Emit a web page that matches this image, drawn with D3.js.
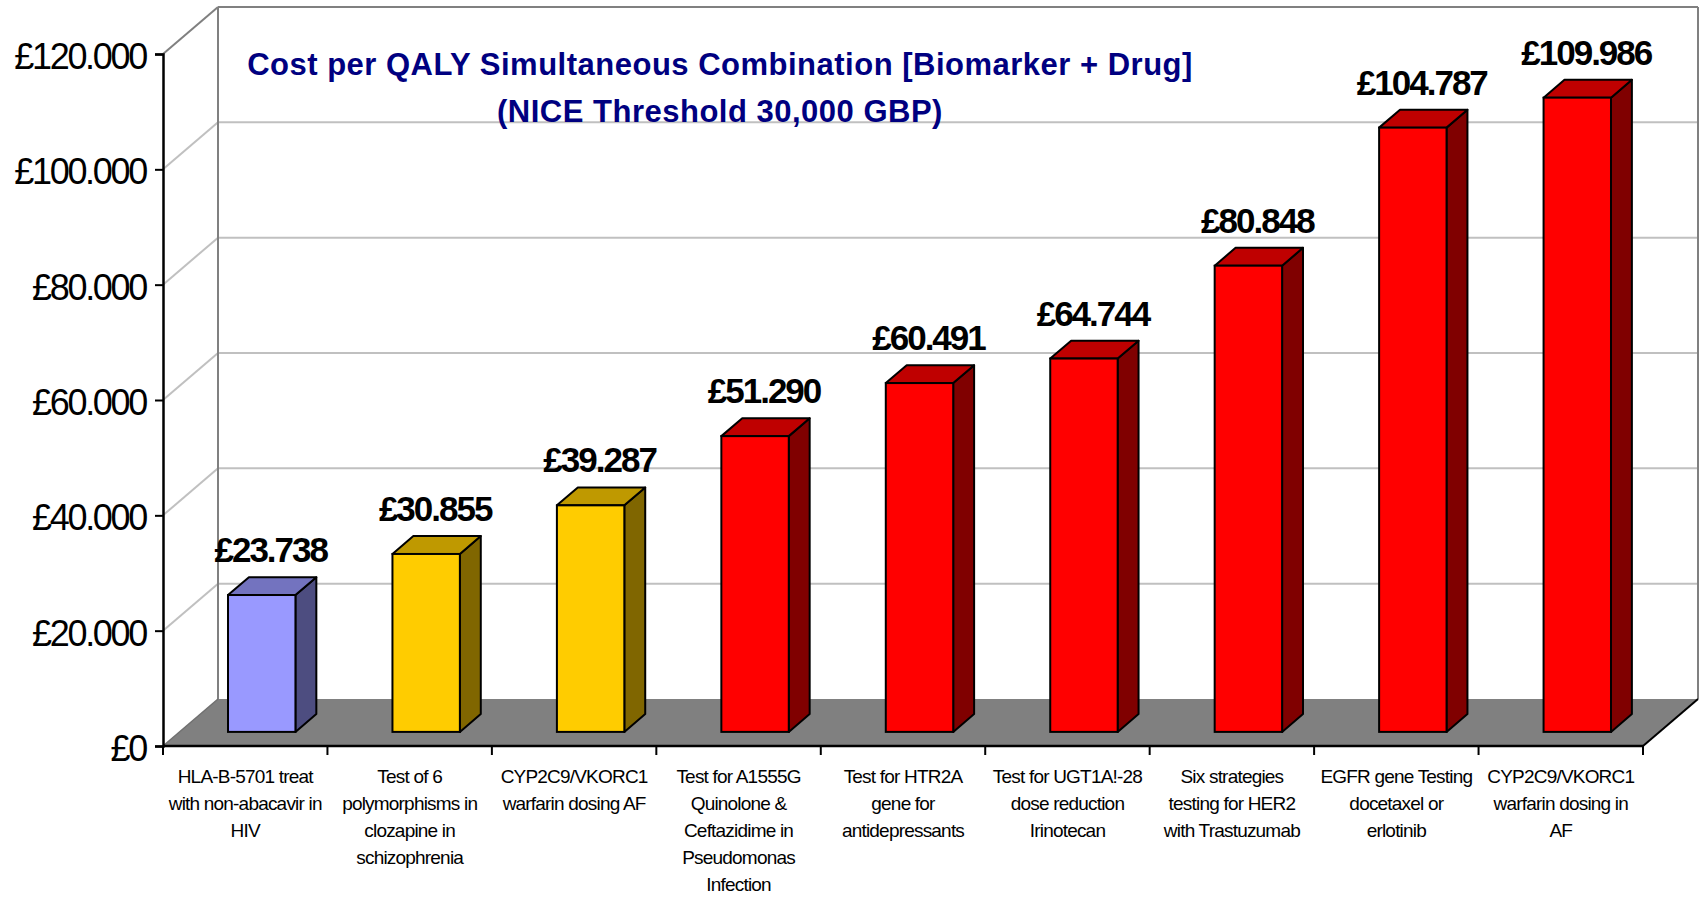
<!DOCTYPE html>
<html>
<head>
<meta charset="utf-8">
<script src="https://cdn.jsdelivr.net/npm/d3@7"></script>
<style>
  body { margin: 0; background: #ffffff; }
  svg { display: block; font-family: "Liberation Sans", Arial, sans-serif; }
</style>
</head>
<body>
<div id="vis"></div>
<script>
const FRAME_WIDTH = 1700;
const FRAME_HEIGHT = 897;

// chart values
const categories = ["HLA-B-5701", "Clozapine", "CYP2C9 AF", "A1555G", "HTR2A",
                    "UGT1A1-28", "HER2", "EGFR", "CYP2C9 in AF"];
const categoryLines = [
  ["HLA-B-5701 treat", "with non-abacavir in", "HIV"],
  ["Test of 6", "polymorphisms in", "clozapine in", "schizophrenia"],
  ["CYP2C9/VKORC1", "warfarin dosing AF"],
  ["Test for A1555G", "Quinolone &", "Ceftazidime in", "Pseudomonas", "Infection"],
  ["Test for HTR2A", "gene for", "antidepressants"],
  ["Test for UGT1A!-28", "dose reduction", "Irinotecan"],
  ["Six strategies", "testing for HER2", "with Trastuzumab"],
  ["EGFR gene Testing", "docetaxel or", "erlotinib"],
  ["CYP2C9/VKORC1", "warfarin dosing in", "AF"]
];
const costValues = [23738, 30855, 39287, 51290, 60491, 64744, 80848, 104787, 109986];
const barColors = ["#9999FF", "#FFCC00", "#FFCC00", "#FF0000", "#FF0000",
                   "#FF0000", "#FF0000", "#FF0000", "#FF0000"];
const yTicks = [0, 20000, 40000, 60000, 80000, 100000, 120000];
const titleLines = ["Cost per QALY Simultaneous Combination [Biomarker + Drug]",
                    "(NICE Threshold 30,000 GBP)"];

// layout of the 3d box
const PLOT = {left: 163, right: 1643, top: 54, bottom: 746};
const DEPTH = {dx: 55, dy: -47};
const BAR_Z = [0.3, 0.68]; // front and back of each bar, as a part of the depth

const X_SCALE = d3.scaleBand()
                  .domain(categories)
                  .range([PLOT.left, PLOT.right])
                  .paddingInner(0)
                  .paddingOuter(0);

const Y_SCALE = d3.scaleLinear()
                  .domain([0, 120000])
                  .range([PLOT.bottom, PLOT.top]);

const BAR_WIDTH = X_SCALE.bandwidth() * 0.41;

const gbp = d3.formatLocale({decimal: ",", thousands: ".", grouping: [3], currency: ["£", ""]})
              .format("$,");

// shift a point back in depth
function dx(z) { return DEPTH.dx * z; }
function dy(z) { return DEPTH.dy * z; }

// darker shade of a colour
function shade(col, k) {
  const c = d3.rgb(col);
  return d3.rgb(c.r * k, c.g * k, c.b * k).toString();
}

const SVG = d3.select("#vis")
              .append("svg")
                .attr("width", FRAME_WIDTH)
                .attr("height", FRAME_HEIGHT);

// floor
const fl = PLOT.left, fr = PLOT.right, fb = PLOT.bottom;
SVG.append("polygon")
    .attr("points", [[fl, fb], [fl + dx(1), fb + dy(1)], [fr + dx(1), fb + dy(1)], [fr, fb]].join(" "))
    .attr("fill", "#808080")
    .attr("stroke", "none");

// gridlines on back wall and left wall
const grid = SVG.append("g");
yTicks.filter((t) => t > 0).forEach((t) => {
  const col = t === 120000 ? "#808080" : "#C0C0C0";
  grid.append("line")
      .attr("x1", fl + dx(1)).attr("x2", fr + dx(1))
      .attr("y1", Y_SCALE(t) + dy(1)).attr("y2", Y_SCALE(t) + dy(1))
      .attr("stroke", col).attr("stroke-width", 2);
  grid.append("line")
      .attr("x1", fl).attr("x2", fl + dx(1))
      .attr("y1", Y_SCALE(t)).attr("y2", Y_SCALE(t) + dy(1))
      .attr("stroke", col).attr("stroke-width", 2);
});

// back wall edges
SVG.append("line")
    .attr("x1", fl + dx(1)).attr("x2", fl + dx(1))
    .attr("y1", Y_SCALE(120000) + dy(1)).attr("y2", fb + dy(1))
    .attr("stroke", "#808080").attr("stroke-width", 2);
SVG.append("line")
    .attr("x1", fr + dx(1)).attr("x2", fr + dx(1))
    .attr("y1", Y_SCALE(120000) + dy(1)).attr("y2", fb + dy(1))
    .attr("stroke", "#808080").attr("stroke-width", 2);

// floor side edges
SVG.append("line")
    .attr("x1", fl).attr("y1", fb).attr("x2", fl + dx(1)).attr("y2", fb + dy(1))
    .attr("stroke", "#707070").attr("stroke-width", 1.5);
SVG.append("line")
    .attr("x1", fr).attr("y1", fb).attr("x2", fr + dx(1)).attr("y2", fb + dy(1))
    .attr("stroke", "#000").attr("stroke-width", 2);

// bars
const data = categories.map((c, i) => ({cat: c, value: costValues[i], color: barColors[i]}));

const bars = SVG.selectAll(".bar")
    .data(data)
    .enter()
    .append("g")
      .attr("class", "bar");

function barGeom(d) {
  const cx = X_SCALE(d.cat) + X_SCALE.bandwidth() / 2 + dx(BAR_Z[0]);
  const x0 = cx - BAR_WIDTH / 2, x1 = cx + BAR_WIDTH / 2;
  const y0 = Y_SCALE(0) + dy(BAR_Z[0]);
  const yT = Y_SCALE(d.value) + dy(BAR_Z[0]);
  const ddx = dx(BAR_Z[1]) - dx(BAR_Z[0]);
  const ddy = dy(BAR_Z[1]) - dy(BAR_Z[0]);
  return {x0, x1, y0, yT, ddx, ddy};
}

// side face
bars.append("polygon")
    .attr("points", (d) => {
      const g = barGeom(d);
      return [[g.x1, g.y0], [g.x1 + g.ddx, g.y0 + g.ddy], [g.x1 + g.ddx, g.yT + g.ddy], [g.x1, g.yT]].join(" ");
    })
    .attr("fill", (d) => shade(d.color, 0.5))
    .attr("stroke", "#000").attr("stroke-width", 2).attr("stroke-linejoin", "round");

// top face
bars.append("polygon")
    .attr("points", (d) => {
      const g = barGeom(d);
      return [[g.x0, g.yT], [g.x0 + g.ddx, g.yT + g.ddy], [g.x1 + g.ddx, g.yT + g.ddy], [g.x1, g.yT]].join(" ");
    })
    .attr("fill", (d) => shade(d.color, 0.75))
    .attr("stroke", "#000").attr("stroke-width", 2).attr("stroke-linejoin", "round");

// front face
bars.append("rect")
    .attr("x", (d) => barGeom(d).x0)
    .attr("y", (d) => barGeom(d).yT)
    .attr("width", BAR_WIDTH)
    .attr("height", (d) => barGeom(d).y0 - barGeom(d).yT)
    .attr("fill", (d) => d.color)
    .attr("stroke", "#000").attr("stroke-width", 2);

// value labels
bars.append("text")
    .attr("x", (d) => X_SCALE(d.cat) + X_SCALE.bandwidth() / 2 + dx(BAR_Z[0]) + 9)
    .attr("y", (d) => Y_SCALE(d.value) + dy(BAR_Z[1]) - 15)
    .attr("text-anchor", "middle")
    .attr("font-size", "35px")
    .attr("font-weight", "bold")
    .attr("letter-spacing", "-2px")
    .attr("fill", "#000")
    .text((d) => gbp(d.value));

// y axis
const yAxis = SVG.append("g")
    .attr("transform", "translate(" + PLOT.left + ",0)")
    .call(d3.axisLeft(Y_SCALE).tickValues(yTicks).tickSize(8).tickPadding(9).tickFormat(gbp));
yAxis.select(".domain").attr("stroke", "#000").attr("stroke-width", 2.5);
yAxis.selectAll(".tick line").attr("stroke", "#000").attr("stroke-width", 2);
yAxis.selectAll(".tick text")
    .attr("font-size", "36px")
    .attr("font-family", "Liberation Sans, Arial, sans-serif")
    .attr("letter-spacing", "-2.3px")
    .attr("dy", "0.4em")
    .attr("fill", "#000");

// x axis line and ticks at category edges
const xAxis = SVG.append("g");
xAxis.append("line")
    .attr("x1", PLOT.left).attr("x2", PLOT.right)
    .attr("y1", PLOT.bottom).attr("y2", PLOT.bottom)
    .attr("stroke", "#000").attr("stroke-width", 2.5);
const edges = categories.map((c) => X_SCALE(c)).concat([PLOT.right]);
xAxis.selectAll(".xtick")
    .data(edges)
    .enter()
    .append("line")
      .attr("x1", (d) => d).attr("x2", (d) => d)
      .attr("y1", PLOT.bottom).attr("y2", PLOT.bottom + 9)
      .attr("stroke", "#000").attr("stroke-width", 2);

// category labels
const labels = xAxis.selectAll(".xlabel")
    .data(categories)
    .enter()
    .append("text")
      .attr("text-anchor", "middle")
      .attr("font-size", "19px")
      .attr("letter-spacing", "-0.8px")
      .attr("fill", "#000");
labels.each(function(c, i) {
  const cx = X_SCALE(c) + X_SCALE.bandwidth() / 2;
  categoryLines[i].forEach((ln, j) => {
    d3.select(this).append("tspan")
      .attr("x", cx)
      .attr("y", 783 + j * 27)
      .text(ln);
  });
});

// title
SVG.append("g")
    .selectAll("text")
    .data(titleLines)
    .enter()
    .append("text")
      .attr("x", 720)
      .attr("y", (d, i) => 75 + i * 47)
      .attr("text-anchor", "middle")
      .attr("font-size", "31px")
      .attr("font-weight", "bold")
      .attr("letter-spacing", "0.5px")
      .attr("fill", "#000080")
      .text((d) => d);
</script>
</body>
</html>
